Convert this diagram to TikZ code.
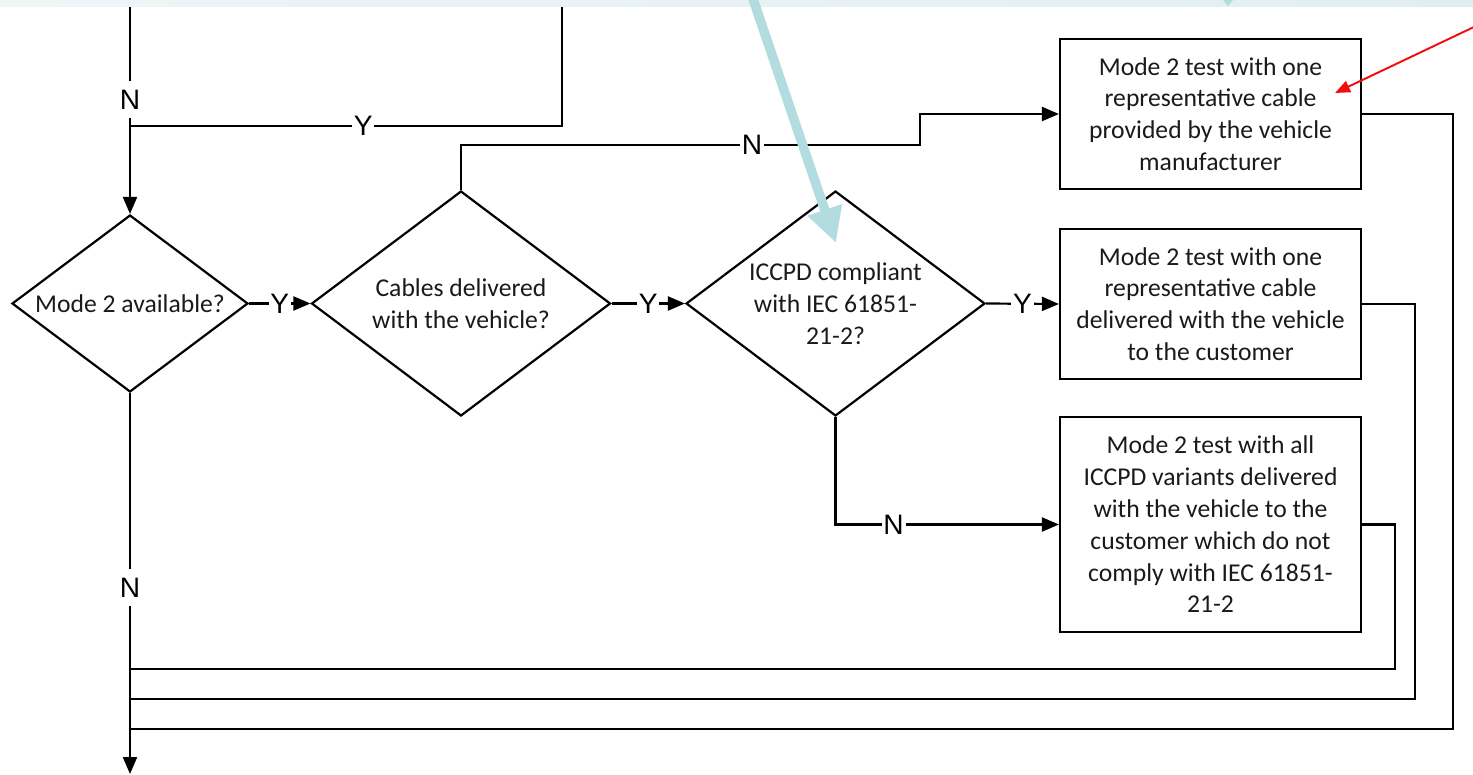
\documentclass[tikz,border=0pt]{standalone}
\usepackage{fontspec}
\setmainfont{Carlito}
\newfontfamily\yesnofont{Liberation Sans}
\usetikzlibrary{arrows.meta,shapes.geometric}
\definecolor{ink}{HTML}{000000}
\definecolor{boxtext}{HTML}{1A1A1A}
\definecolor{hintblue}{HTML}{B3DCE0}
\definecolor{bandleft}{HTML}{EEF6F6}
\definecolor{bandright}{HTML}{E1EEF1}
\definecolor{markred}{HTML}{F20C0C}
\tikzset{
  decision/.style={diamond,draw=ink,line width=1.25pt,inner sep=0pt,aspect=1.33,
                   align=center,text=boxtext,font=\fontsize{14.6}{18.1}\selectfont},
  testbox/.style ={rectangle,draw=ink,line width=1.25pt,inner sep=2pt,align=center,
                   minimum width=6.02cm,text=boxtext,font=\fontsize{14.6}{18.1}\selectfont},
  link/.style    ={line width=1.25pt,draw=ink},
  flow/.style    ={-{Triangle[length=3.4mm,width=2.8mm]},line width=1.25pt,draw=ink},
  yn/.style      ={fill=white,inner xsep=1pt,inner ysep=5pt,
                   font=\yesnofont\fontsize{16}{16}\selectfont},
  hint/.style    ={-{Triangle[length=7mm,width=6.8mm]},line width=5.4pt,draw=hintblue},
  redmark/.style ={-{Triangle[length=3mm,width=2.4mm]},line width=1.1pt,draw=markred}
}
\begin{document}
\begin{tikzpicture}[x=0.02cm,y=-0.02cm]
  \useasboundingbox (0,0) rectangle (1473,774);
  % decisions
  \node[decision,minimum width=4.72cm,minimum height=3.54cm] (avail) at (130,303.5) {Mode 2 available?};
  \node[decision,minimum width=5.98cm,minimum height=4.5cm] (cables) at (461,303.5) {Cables delivered\\with the vehicle?};
  \node[decision,minimum width=5.98cm,minimum height=4.5cm] (iccpd) at (835.5,303.5) {ICCPD compliant\\with IEC 61851-\\21-2?};
  % tests
  \node[testbox,minimum height=3.0cm] (oemcable) at (1210.5,114) {Mode 2 test with one\\representative cable\\provided by the vehicle\\manufacturer};
  \node[testbox,minimum height=3.0cm] (onecable) at (1210.5,304) {Mode 2 test with one\\representative cable\\delivered with the vehicle\\to the customer};
  \node[testbox,minimum height=4.3cm] (allcables) at (1210.5,524.5) {Mode 2 test with all\\ICCPD variants delivered\\with the vehicle to the\\customer which do not\\comply with IEC 61851-\\21-2};
  % loose ends
  \coordinate (inN) at (130,0);
  \coordinate (inY) at (562,0);
  \coordinate (joinY) at (130,126);
  \coordinate (kink) at (920,145);
  \coordinate (back1) at (1453,729); \coordinate (join1) at (130,729);
  \coordinate (back2) at (1415,699); \coordinate (join2) at (130,699);
  \coordinate (back3) at (1395,669); \coordinate (join3) at (130,669);
  \coordinate (out) at (130,774);
  % connectors
  \draw[flow] (inN) -- node[yn,pos=0.465]{N} (avail.north);
  \draw[link] (inY) |- node[yn,pos=0.73]{Y} (joinY);
  \draw[flow] (avail.east) -- node[yn]{Y} (cables.west);
  \draw[flow] (cables.east) -- node[yn]{Y} (iccpd.west);
  \draw[flow] (iccpd.east) -- node[yn]{Y} (onecable.west);
  \draw[flow] (cables.north) |- node[yn,pos=0.817]{N} (kink) |- (oemcable.west);
  \draw[flow] (iccpd.south) |- node[yn,pos=0.63]{N} (allcables.west);
  \draw[link] (oemcable.east) -| (back1) -- (join1);
  \draw[link] (onecable.east) -| (back2) -- (join2);
  \draw[link] (allcables.east) -| (back3) -- (join3);
  \draw[flow] (avail.south) -- node[yn,pos=0.51]{N} (out);
  % overlay
  \fill[left color=bandleft,right color=bandright] (0,0) rectangle (1473,6);
  \fill[hintblue] (1223,0) -- (1233,0) -- (1228,6) -- cycle;
  \coordinate (hintfrom) at (752,-4);
  \coordinate (hintto) at (836,243);
  \draw[hint] (hintfrom) -- (hintto);
  \coordinate (redfrom) at (1476,26);
  \coordinate (redto) at (1335,93);
  \draw[redmark] (redfrom) -- (redto);
\end{tikzpicture}
\end{document}
